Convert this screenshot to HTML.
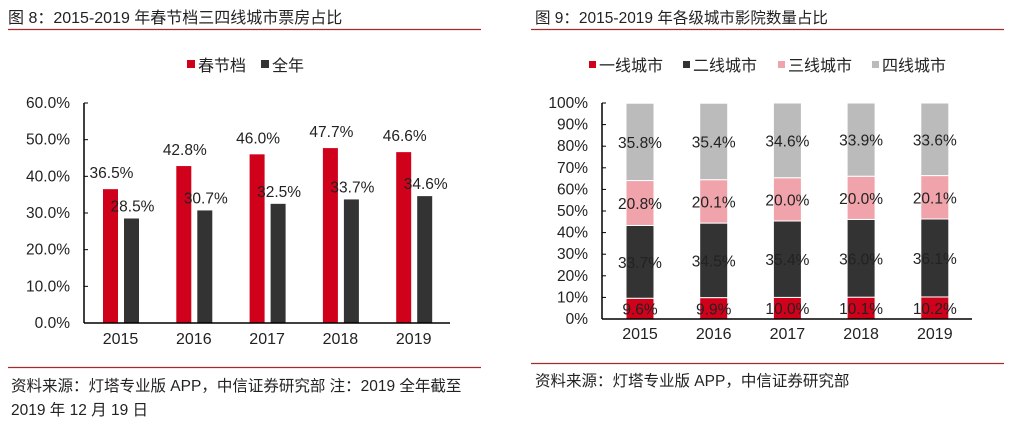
<!DOCTYPE html>
<html><head><meta charset="utf-8"><style>
body{margin:0;background:#fff;}
svg text{font-family:"Liberation Sans","Noto Sans CJK SC",sans-serif;}
</style></head><body>
<svg id="s" width="1014" height="423" xmlns="http://www.w3.org/2000/svg">
<text x="8" y="23" font-size="16" fill="#222">图 8：2015-2019 年春节档三四线城市票房占比</text>
<line x1="8" y1="29.5" x2="481" y2="29.5" stroke="#a52a2a" stroke-width="1.2"/>
<rect x="187" y="60" width="8" height="8" fill="#d0021b"/>
<text x="198" y="71" font-size="16" fill="#222">春节档</text>
<rect x="261" y="60" width="8" height="8" fill="#333"/>
<text x="272" y="71" font-size="16" fill="#222">全年</text>
<g id="left"></g>
<line x1="8" y1="367.5" x2="481" y2="367.5" stroke="#a52a2a" stroke-width="1.2"/>
<text x="11" y="391" font-size="15.5" fill="#222">资料来源：灯塔专业版 APP，中信证券研究部  注：2019 全年截至</text>
<text x="11" y="415" font-size="15.5" fill="#222">2019 年 12 月 19 日</text>

<text x="535" y="23" font-size="15.5" fill="#222">图 9：2015-2019 年各级城市影院数量占比</text>
<line x1="531" y1="29.5" x2="1004" y2="29.5" stroke="#a52a2a" stroke-width="1.2"/>
<g id="rleg"></g>
<g id="right"></g>
<line x1="531" y1="363.5" x2="1004" y2="363.5" stroke="#a52a2a" stroke-width="1.2"/>
<text x="535" y="386" font-size="15.5" fill="#222">资料来源：灯塔专业版 APP，中信证券研究部</text>
</svg>
<script>
const years=['2015','2016','2017','2018','2019'];
const spring=[36.5,42.8,46.0,47.7,46.6];
const full=[28.5,30.7,32.5,33.7,34.6];
const leftTicks=['0.0%','10.0%','20.0%','30.0%','40.0%','50.0%','60.0%'];
const tier1=[9.6,9.9,10.0,10.1,10.2];
const tier2=[33.7,34.5,35.4,36.0,36.1];
const tier3=[20.8,20.1,20.0,20.0,20.1];
const tier4=[35.8,35.4,34.6,33.9,33.6];
const rightTicks=['0%','10%','20%','30%','40%','50%','60%','70%','80%','90%','100%'];
const tierNames=['一线城市','二线城市','三线城市','四线城市'];
const NS='http://www.w3.org/2000/svg';
function mk(p,tag,a,txt){const e=document.createElementNS(NS,tag);for(const k in a)e.setAttribute(k,a[k]);if(txt!==undefined)e.textContent=txt;p.appendChild(e);return e;}
const L=document.getElementById('left');
const ly=v=>323-v/60*220, lx=i=>120.5+i*73.3;
leftTicks.forEach((t,i)=>{const v=i*10;
 const e=mk(L,'text',{x:70,y:ly(v)+5,'font-size':15.5,'text-anchor':'end',fill:'#222'},t);
 
 const l=mk(L,'line',{x1:84,x2:88,y1:ly(v),y2:ly(v),stroke:'#000'});
 });
years.forEach((y,i)=>{
 const r=mk(L,'rect',{x:lx(i)-17.5,y:ly(spring[i]),width:15,height:323-ly(spring[i]),fill:'#d0021b'});
 
 const d=mk(L,'rect',{x:lx(i)+3.5,y:ly(full[i]),width:15,height:323-ly(full[i]),fill:'#333'});
 
 const t1=mk(L,'text',{x:lx(i)-9,y:ly(spring[i])-11,'font-size':15.5,'text-anchor':'middle',fill:'#222'},spring[i].toFixed(1)+'%');
 
 const t2=mk(L,'text',{x:lx(i)+12,y:ly(full[i])-7,'font-size':15.5,'text-anchor':'middle',fill:'#222'},full[i].toFixed(1)+'%');
 
 const xt=mk(L,'text',{x:lx(i),y:344,'font-size':16,'text-anchor':'middle',fill:'#222'},y);
 
});
let a=mk(L,'line',{x1:84,x2:84,y1:103,y2:323,stroke:'#000','stroke-width':1.5});
a=mk(L,'line',{x1:84,x2:450,y1:323,y2:323,stroke:'#000','stroke-width':1.5});
const R=document.getElementById('right');
const ry=v=>319-v/100*216, rx=i=>640+i*73.7;
const cols=['#d0021b','#333','#f1a3ab','#bbb'];
const series=[tier1,tier2,tier3,tier4];
rightTicks.forEach((t,i)=>{const v=i*10;
 const e=mk(R,'text',{x:588,y:ry(v)+5,'font-size':15.5,'text-anchor':'end',fill:'#222'},t);
 
 const l=mk(R,'line',{x1:602,x2:606,y1:ry(v),y2:ry(v),stroke:'#000'});
 });
years.forEach((y,i)=>{let c=0;
 series.forEach((s,k)=>{const v=s[i];
  const r=mk(R,'rect',{x:rx(i)-14,y:ry(c+v),width:28,height:ry(c)-ry(c+v),fill:cols[k],stroke:'#fff','stroke-width':1});
  
  const t=mk(R,'text',{x:rx(i),y:(ry(c)+ry(c+v))/2+6,'font-size':15.5,'text-anchor':'middle',fill:'#222'},v.toFixed(1)+'%');
  
  c+=v;});
 const xt=mk(R,'text',{x:rx(i),y:339,'font-size':16,'text-anchor':'middle',fill:'#222'},y);
 
});
a=mk(R,'line',{x1:602,x2:602,y1:103,y2:319,stroke:'#000','stroke-width':1.5});
a=mk(R,'line',{x1:602,x2:972,y1:319,y2:319,stroke:'#000','stroke-width':1.5});
const G=document.getElementById('rleg');
const lpos=[589,683,778,872];
tierNames.forEach((n,k)=>{
 const r=mk(G,'rect',{x:lpos[k],y:61,width:7,height:7,fill:cols[k]});
 
 const t=mk(G,'text',{x:lpos[k]+10,y:71,'font-size':16,fill:'#222'},n);
 
});
</script>
</body></html>
